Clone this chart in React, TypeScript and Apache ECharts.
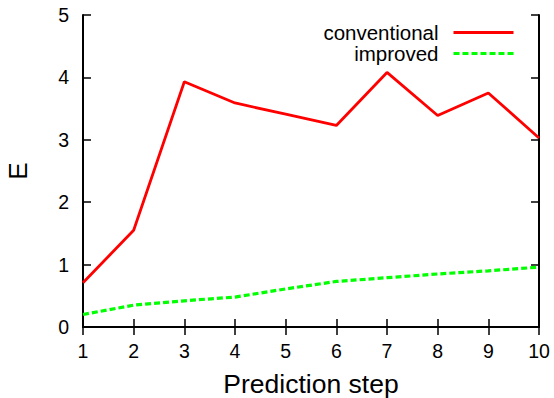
import React, { useEffect, useRef } from "react";
import * as echarts from "echarts";

const steps = [1, 2, 3, 4, 5, 6, 7, 8, 9, 10];
const conventional = [0.71, 1.55, 3.93, 3.59, 3.41, 3.23, 4.08, 3.39, 3.75, 3.03];
const improved = [0.2, 0.35, 0.42, 0.48, 0.61, 0.73, 0.79, 0.85, 0.9, 0.96];
const seriesNames = ["conventional", "improved"];

const FONT = "'Liberation Sans', Arial, Helvetica, sans-serif";

export default function App() {
  const ref = useRef<HTMLDivElement>(null);
  useEffect(() => {
    if (!ref.current) return;
    const chart = echarts.init(ref.current, null, { renderer: "svg" });
    const axisLine = { show: true, lineStyle: { color: "#000", width: 2 } };
    const tick = { show: true, inside: true, length: 8, lineStyle: { color: "#000", width: 1.5 } };
    chart.setOption({
      animation: false,
      backgroundColor: "#fff",
      textStyle: { fontFamily: FONT },
      grid: { left: 83, right: 15, top: 15, bottom: 71, containLabel: false, outerBoundsMode: "none" },
      legend: {
        data: seriesNames,
        orient: "vertical",
        align: "right",
        right: 34,
        top: 17,
        itemWidth: 60,
        itemHeight: 14,
        itemGap: 0,
        selectedMode: false,
        itemStyle: { opacity: 0 },
        lineStyle: { width: 3 },
        textStyle: { fontFamily: FONT, fontSize: 20.5, color: "#000", lineHeight: 21, padding: [0, 10, 0, 0] },
      },
      xAxis: [
        {
          type: "value",
          min: 1,
          max: 10,
          interval: 1,
          name: "Prediction step",
          nameLocation: "middle",
          nameGap: 43,
          nameTextStyle: { fontFamily: FONT, fontSize: 26.5, color: "#000" },
          axisLine,
          axisTick: tick,
          axisLabel: { margin: 14, fontFamily: FONT, fontSize: 19.5, color: "#000" },
          splitLine: { show: false },
        },
        {
          type: "value",
          position: "top",
          min: 1,
          max: 10,
          interval: 1,
          axisLine,
          axisTick: tick,
          axisLabel: { show: false },
          splitLine: { show: false },
        },
      ],
      yAxis: [
        {
          type: "value",
          min: 0,
          max: 5,
          interval: 1,
          name: "E",
          nameLocation: "middle",
          nameGap: 52,
          nameRotate: 90,
          nameTextStyle: { fontFamily: FONT, fontSize: 26, color: "#000" },
          axisLine,
          axisTick: tick,
          axisLabel: { margin: 14, fontFamily: FONT, fontSize: 19.5, color: "#000" },
          splitLine: { show: false },
        },
        {
          type: "value",
          position: "right",
          min: 0,
          max: 5,
          interval: 1,
          axisLine,
          axisTick: tick,
          axisLabel: { show: false },
          splitLine: { show: false },
        },
      ],
      series: [
        {
          name: seriesNames[0],
          type: "line",
          data: steps.map((s, i) => [s, conventional[i]]),
          showSymbol: false,
          symbol: "none",
          color: "#ff0000",
          lineStyle: { color: "#ff0000", width: 2.8 },
        },
        {
          name: seriesNames[1],
          type: "line",
          data: steps.map((s, i) => [s, improved[i]]),
          showSymbol: false,
          symbol: "none",
          color: "#00ff00",
          lineStyle: { color: "#00ff00", width: 3.2, type: [6, 3] },
        },
      ],
    });
    return () => chart.dispose();
  }, []);
  return <div ref={ref} style={{ width: 554, height: 398, position: "absolute", left: 0, top: 0 }} />;
}
